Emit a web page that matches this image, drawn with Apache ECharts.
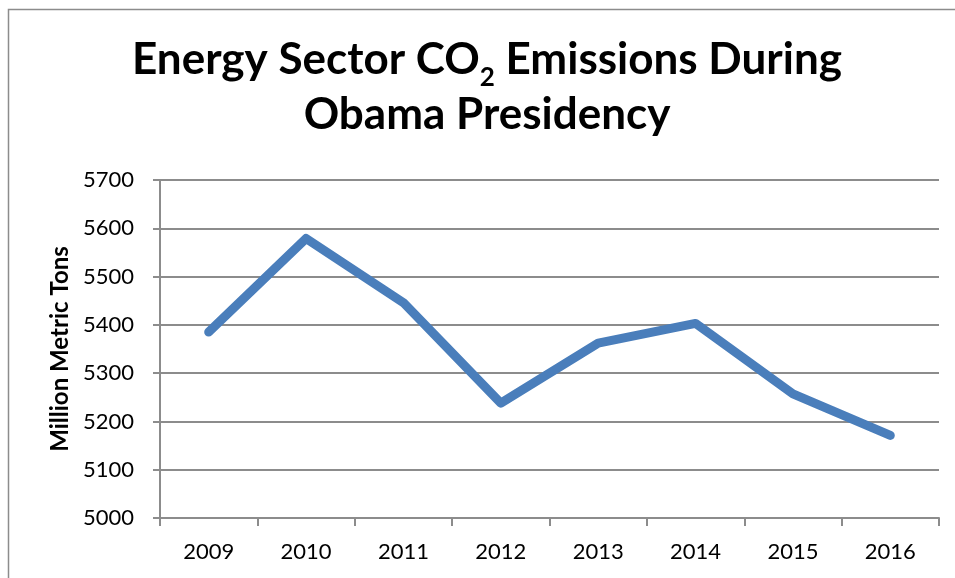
<!DOCTYPE html>
<html>
<head>
<meta charset="utf-8">
<script src="https://cdn.jsdelivr.net/npm/echarts@6/dist/echarts.min.js"></script>
<style>
  html, body { margin: 0; padding: 0; background: #fff; }
  #chart { width: 955px; height: 578px; }
</style>
</head>
<body>
<div id="chart"></div>
<script>
// Energy sector CO2 emissions by year (million metric tons)
const years = ['2009', '2010', '2011', '2012', '2013', '2014', '2015', '2016'];
const emissions = [5385, 5579, 5446, 5238, 5362, 5403, 5257, 5171];
const yTicks = [5000, 5100, 5200, 5300, 5400, 5500, 5600, 5700];

// Title pieces: first line carries a subscripted "2"
const titleLine1 = ['Energy Sector CO', '2', ' Emissions During'];
const titleLine2 = 'Obama Presidency';

const FONT = 'Lato, "Open Sans", sans-serif';
const TITLE_SIZE = 44;
const SUB_SIZE = 26;
const TITLE_CX = 487;

const chart = echarts.init(document.getElementById('chart'));

// measure the title runs so the subscripted line can be centred as a whole
const ctx = document.createElement('canvas').getContext('2d');
function widthOf(str, size) {
  ctx.font = 'bold ' + size + 'px ' + FONT;
  return ctx.measureText(str).width;
}
const wA = widthOf(titleLine1[0], TITLE_SIZE);
const wS = widthOf(titleLine1[1], SUB_SIZE);
const wB = widthOf(titleLine1[2], TITLE_SIZE);
const x0 = TITLE_CX - (wA + wS + wB) / 2;

function titleText(str, x, y, size, align) {
  return {
    type: 'text', x: x, y: y, silent: true,
    style: {
      text: str, fill: '#000', font: 'bold ' + size + 'px ' + FONT,
      align: align, verticalAlign: 'middle'
    }
  };
}

chart.setOption({
  backgroundColor: '#fff',
  animation: false,
  graphic: [
    {
      type: 'polyline',
      shape: { points: [[8.5, 600], [8.5, 9.5], [960, 9.5]] },
      style: { stroke: '#8c8c8c', lineWidth: 1.5, fill: null },
      silent: true
    },
    titleText(titleLine1[0], x0, 60, TITLE_SIZE, 'left'),
    titleText(titleLine1[1], x0 + wA, 78, SUB_SIZE, 'left'),
    titleText(titleLine1[2], x0 + wA + wS, 60, TITLE_SIZE, 'left'),
    titleText(titleLine2, TITLE_CX, 115, TITLE_SIZE, 'center')
  ],
  grid: { left: 160, right: 16, top: 180, bottom: 60, containLabel: false },
  xAxis: {
    type: 'category',
    data: years,
    boundaryGap: true,
    axisLine: { lineStyle: { color: '#8c8c8c', width: 2 } },
    axisTick: { show: true, length: 8, alignWithLabel: false, lineStyle: { color: '#8c8c8c', width: 2 } },
    axisLabel: { color: '#000', fontFamily: FONT, fontSize: 22, margin: 23 }
  },
  yAxis: {
    type: 'value',
    min: yTicks[0],
    max: yTicks[yTicks.length - 1],
    interval: 100,
    name: 'Million Metric Tons',
    nameLocation: 'middle',
    nameGap: 86,
    nameTextStyle: { color: '#000', fontFamily: FONT, fontWeight: 'bold', fontSize: 24 },
    axisLine: { show: true, lineStyle: { color: '#8c8c8c', width: 2 } },
    axisTick: { show: true, length: 7, lineStyle: { color: '#8c8c8c', width: 2 } },
    axisLabel: { color: '#000', fontFamily: FONT, fontSize: 22, margin: 26, formatter: v => String(v) },
    splitLine: { show: true, lineStyle: { color: '#8c8c8c', width: 2 } }
  },
  series: [{
    type: 'line',
    data: emissions,
    symbol: 'none',
    lineStyle: { color: '#4a7ebb', width: 9, cap: 'round', join: 'round' }
  }]
});
</script>
</body>
</html>
